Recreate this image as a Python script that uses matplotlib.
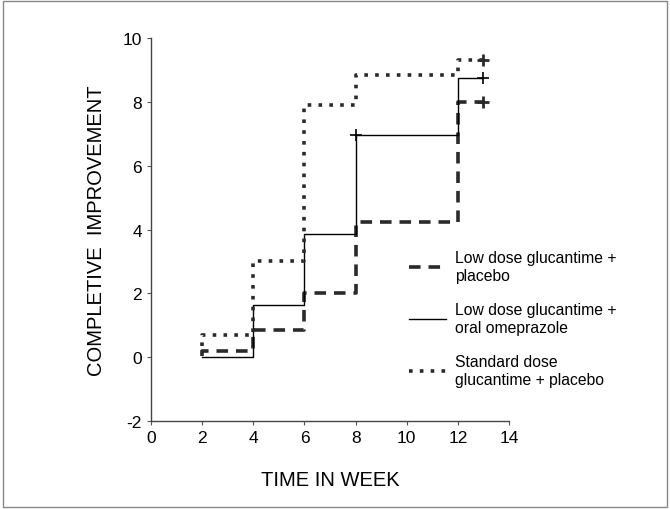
import matplotlib
matplotlib.use("Agg")
import matplotlib.pyplot as plt
from matplotlib.patches import Rectangle

plt.rcParams['font.family'] = ['Liberation Sans', 'DejaVu Sans']
plt.rcParams['axes.unicode_minus'] = False

weeks = [2, 2, 4, 6, 8, 12, 13]
low_placebo = [0.05, 0.2, 0.85, 2.0, 4.25, 8.0, 8.0]
low_omeprazole = [0.0, 0.0, 1.65, 3.85, 6.95, 8.75, 8.75]
standard_placebo = [0.35, 0.7, 3.0, 7.9, 8.85, 9.3, 9.3]
labels = ["Low dose glucantime +\nplacebo",
          "Low dose glucantime +\noral omeprazole",
          "Standard dose\nglucantime + placebo"]
xticks = [0, 2, 4, 6, 8, 10, 12, 14]
yticks = [-2, 0, 2, 4, 6, 8, 10]

fig = plt.figure(figsize=(6.7, 5.1), dpi=100)
ax = fig.add_axes([0.2254, 0.1725, 0.7597 - 0.2254, 0.9235 - 0.1725])

dark = '#2a2a2a'
l1, = ax.step(weeks, low_placebo, where='post', color=dark, lw=2.6,
              linestyle=(0, (3.2, 2.2)), solid_capstyle='butt')
l2, = ax.step(weeks, low_omeprazole, where='post', color='black', lw=1.0)
l3, = ax.step(weeks, standard_placebo, where='post', color=dark, lw=2.6,
              linestyle=(0, (1.0, 2.0)))

# censoring marks
ax.plot([weeks[-1]], [low_placebo[-1]], marker='+', ms=8, mew=2, color=dark, ls='none')
ax.plot([weeks[-1], 8], [low_omeprazole[-1], low_omeprazole[4]], marker='+', ms=8, mew=1.2, color='black', ls='none')
ax.plot([weeks[-1]], [standard_placebo[-1]], marker='+', ms=8, mew=2, color=dark, ls='none')

ax.set_xlim(0, 14)
ax.set_ylim(-2, 10)
ax.set_xticks(xticks)
ax.set_yticks(yticks)
ax.tick_params(axis='both', labelsize=12.5, direction='out', length=3, width=0.8, color='#555555')
ax.spines['top'].set_visible(False)
ax.spines['right'].set_visible(False)
for s in ['left', 'bottom']:
    ax.spines[s].set_color('#444444')
    ax.spines[s].set_linewidth(1.0)

ax.set_xlabel("TIME IN WEEK", fontsize=14.5, labelpad=18)
ax.set_ylabel("COMPLETIVE  IMPROVEMENT", fontsize=14.5, labelpad=12)

leg = fig.legend([l1, l2, l3], labels, loc='upper left',
                 bbox_to_anchor=(0.59, 0.535), frameon=False,
                 fontsize=11.3, handlelength=2.3, labelspacing=1.25,
                 handletextpad=0.6)

fig.patches.append(Rectangle((0.004, 0.004), 0.992, 0.992, transform=fig.transFigure,
                             fill=False, edgecolor='#888888', lw=1.0))

fig.savefig("out.png", dpi=100)
